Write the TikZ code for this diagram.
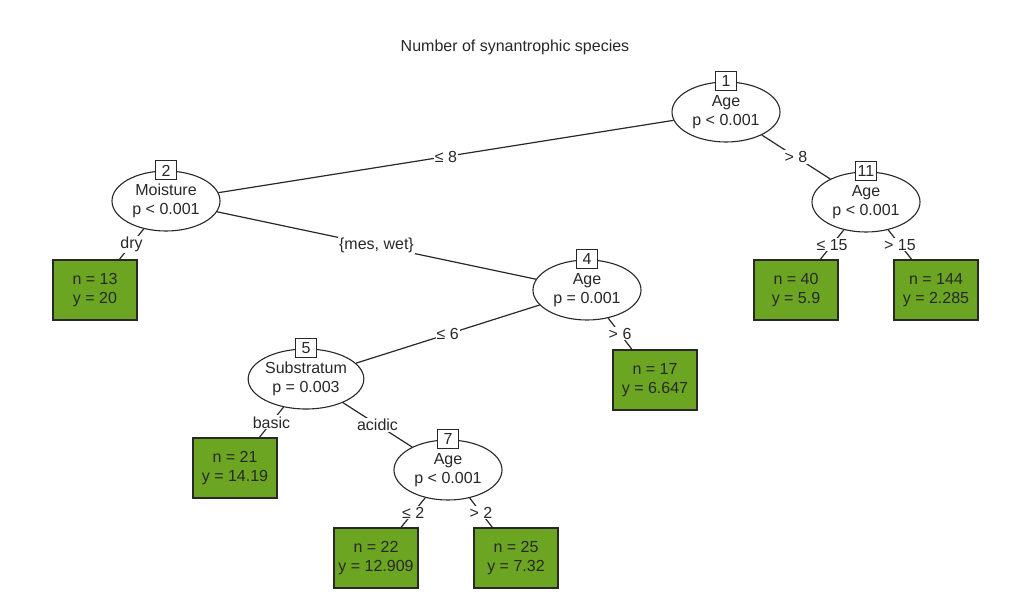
\documentclass[tikz,border=0pt]{standalone}
\usepackage{fontspec}
\setmainfont{Liberation Sans}
\usetikzlibrary{shapes.geometric}
\definecolor{leafgreen}{RGB}{107,165,33}
\definecolor{ink}{RGB}{40,40,40}
\begin{document}
\begin{tikzpicture}[x=1pt,y=-1pt,
  every node/.style={font=\fontsize{16}{19.5}\selectfont, text=ink},
  inner/.style={ellipse, draw=ink, fill=white, line width=1.1pt, minimum width=108pt, minimum height=60pt, inner sep=0pt, align=center},
  idbox/.style={draw=ink, fill=white, line width=1pt, minimum width=21pt, minimum height=19pt, inner sep=1pt},
  leaf/.style={draw=ink, fill=leafgreen, line width=1.2pt, minimum width=84pt, minimum height=60pt, align=center, inner sep=0pt},
  edgeline/.style={draw=ink, line width=1.2pt},
  elab/.style={fill=white, inner sep=1pt}
]
\useasboundingbox[fill=white] (0,0) rectangle (1015,615);
\node (title) at (515,47) {Number of synantrophic species};

% inner nodes
\node[inner] (n1) at (726,112) {Age\\p < 0.001};
\node[inner] (n2) at (166,201) {Moisture\\p < 0.001};
\node[inner] (n11) at (866,202) {Age\\p < 0.001};
\node[inner] (n4) at (587,290) {Age\\p = 0.001};
\node[inner] (n5) at (306,379) {Substratum\\p = 0.003};
\node[inner] (n7) at (448,470) {Age\\p < 0.001};

% leaves
\node[leaf] (l3) at (95,290) {n = 13\\y = 20};
\node[leaf] (l12) at (796,290) {n = 40\\y = 5.9};
\node[leaf] (l13) at (936,290) {n = 144\\y = 2.285};
\node[leaf] (l10) at (655,380) {n = 17\\y = 6.647};
\node[leaf] (l6) at (235,468) {n = 21\\y = 14.19};
\node[leaf] (l8) at (376,558) {n = 22\\y = 12.909};
\node[leaf] (l9) at (516,558) {n = 25\\y = 7.32};

% edges
\draw[edgeline] (n1) -- node[elab] {≤ 8} (n2);
\draw[edgeline] (n1) -- node[elab] {> 8} (n11);
\draw[edgeline] (n2) -- node[elab] {dry} (l3);
\draw[edgeline] (n2) -- node[elab] {\{mes, wet\}} (n4);
\draw[edgeline] (n4) -- node[elab] {≤ 6} (n5);
\draw[edgeline] (n4) -- node[elab] {> 6} (l10);
\draw[edgeline] (n5) -- node[elab] {basic} (l6);
\draw[edgeline] (n5) -- node[elab] {acidic} (n7);
\draw[edgeline] (n7) -- node[elab] {≤ 2} (l8);
\draw[edgeline] (n7) -- node[elab] {> 2} (l9);
\draw[edgeline] (n11) -- node[elab] {≤ 15} (l12);
\draw[edgeline] (n11) -- node[elab] {> 15} (l13);

% id boxes
\node[idbox] (b1) at (n1.north) {1};
\node[idbox] (b2) at (n2.north) {2};
\node[idbox] (b11) at (n11.north) {11};
\node[idbox] (b4) at (n4.north) {4};
\node[idbox] (b5) at (n5.north) {5};
\node[idbox] (b7) at (n7.north) {7};
\end{tikzpicture}
\end{document}
